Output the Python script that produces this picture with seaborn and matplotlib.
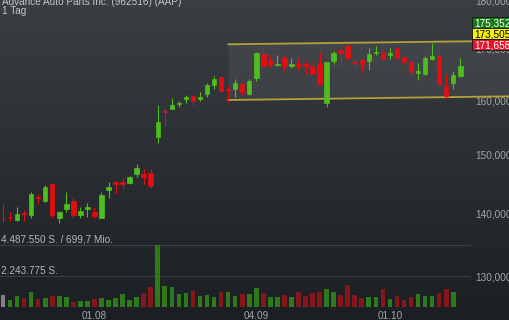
import numpy as np
import pandas as pd
import matplotlib
matplotlib.use("Agg")
import matplotlib.pyplot as plt
from matplotlib.patches import Rectangle
from matplotlib.ticker import FixedLocator, NullLocator, FuncFormatter
import seaborn as sns

# ---------------- data ----------------
title = "Advance Auto Parts Inc. (962516) (AAP)"
period = "1 Tag"

opens = [139122, 139440, 138936, 140040, 139707, 142656, 142035, 144859, 139256, 140700,
         142085, 139707, 140650, 140248, 139256, 143939, 145202, 145202, 145082, 146630,
         146630, 146751, 153116, 157882, 158311, 159304, 160132, 160813, 160189, 161079,
         162798, 164457, 162184, 162089, 163048, 161136, 164147, 168920, 167590, 166801,
         168065, 166545, 166880, 166841, 166604, 167136, 159491, 167530, 169717, 170520,
         167392, 167728, 167530, 169059, 169317, 168720, 170058, 168263, 167274, 165235,
         164981, 167926, 168521, 162529, 163298, 164651]
highs = [141483, 140247, 140982, 140533, 143499, 143161, 144739, 144910, 140366, 143499,
         142756, 141083, 141751, 141083, 143499, 145304, 145424, 145992, 146336, 148318,
         147497, 147497, 159059, 158442, 160321, 159868, 160946, 161079, 161574, 163182,
         164592, 164592, 162529, 163954, 163298, 163954, 169378, 170580, 168720, 168720,
         168720, 168065, 168184, 167590, 167274, 169258, 167392, 169578, 170058, 170862,
         168065, 167926, 170179, 170580, 170379, 170179, 170379, 168382, 167333, 167136,
         168581, 171225, 169258, 165040, 165508, 168184]
lows = [138604, 138720, 138770, 138770, 139155, 141482, 141818, 139155, 138345, 140153,
        139155, 139256, 139425, 139155, 139155, 142588, 143161, 144059, 144859, 146112,
        144859, 144178, 152035, 155224, 158255, 158741, 159491, 159003, 159811, 160624,
        162146, 161574, 159567, 160624, 160946, 160946, 163683, 166290, 166290, 166604,
        165625, 166212, 165762, 164923, 164923, 162855, 158741, 166880, 166604, 167728,
        166290, 165313, 165762, 168720, 167728, 167926, 167926, 167076, 164651, 163818,
        164884, 167728, 162529, 160321, 162089, 164457]
closes = [138988, 139306, 139925, 139824, 143161, 142488, 144399, 139707, 140248, 141532,
          139707, 140417, 141083, 139540, 143042, 144450, 144910, 144996, 146112, 147619,
          146163, 144620, 155848, 157696, 159059, 159491, 160510, 159811, 160624, 162855,
          163954, 161707, 161898, 163298, 161574, 163625, 169118, 166604, 166880, 166998,
          166604, 166880, 166604, 166545, 164981, 163048, 167274, 169178, 169138, 168065,
          167195, 166938, 168920, 169378, 167926, 169118, 168223, 167274, 165430, 165566,
          168065, 168581, 162990, 160700, 164787, 166604]
volumes = [864000, 526000, 814000, 691000, 1124000, 576000, 691000, 814000, 814000, 764000,
           403000, 454000, 475000, 576000, 648000, 547000, 691000, 958000, 526000, 764000,
           1008000, 1441000, 4487550, 1534000, 1441000, 980000, 1030000, 1196000, 836000, 908000,
           742000, 1080000, 1124000, 792000, 936000, 958000, 1369000, 1008000, 764000, 764000,
           886000, 720000, 1102000, 814000, 1008000, 1080000, 1297000, 1080000, 886000, 1606000,
           886000, 691000, 742000, 742000, 1297000, 598000, 814000, 526000, 764000, 936000,
           814000, 836000, 1008000, 1340000, 1080000]
turnover_label = "699,7 Mio."

date_ticks = [13, 36, 55]
date_labels = ["01.08", "04.09", "01.10"]
price_ticks = [130000, 140000, 150000, 160000, 170000, 180000]

channel_idx = [32, 72]
channel_upper = [170862, 171572]
channel_lower = [160000, 160697]

marker_values = [175352, 173505, 171658]
marker_labels = ["175,352", "173,505", "171,658"]

# ---------------- style ----------------
W, H = 510, 320
FONT = ["Liberation Sans", "DejaVu Sans"]
sns.set_style("dark")
plt.rcParams["font.family"] = FONT
FS = 7.2
C_UP = "#4fbd1c"
C_DN = "#e30d12"
V_UP = "#2e7a1a"
V_DN = "#87161b"
V_FLAT = "#808080"
TXT = "#a3a6a9"

fig = plt.figure(figsize=(W / 100, H / 100), dpi=100)

# gradient background
bg = fig.add_axes([0, 0, 1, 1], zorder=-5)
top = np.array([0x3b, 0x3f, 0x43]) / 255
bot = np.array([0x1b, 0x1e, 0x22]) / 255
t = np.linspace(0, 1, 256)[:, None, None]
grad = top * (1 - t) + bot * t
grad = np.repeat(grad, 4, axis=1)
bg.imshow(grad, aspect="auto", extent=[0, 1, 0, 1])
bg.set_axis_off()

idx = np.arange(len(closes))
x0 = -3 / 7.035
x1 = (470 - 3) / 7.035

# ---------------- price axes ----------------
ax = fig.add_axes([0, 0, 470 / W, 1], zorder=1)
ax.patch.set_alpha(0)
ax.set_yscale("log")
ax.set_ylim(123441, 180025)
ax.set_xlim(x0, x1)
for s in ax.spines.values():
    s.set_visible(False)

o = np.array(opens, float)
c = np.array(closes, float)
hi = np.array(highs, float)
lo = np.array(lows, float)
cols = [C_UP if cc >= oo else C_DN for oo, cc in zip(o, c)]

# channel
ax.fill_between(channel_idx, channel_lower, channel_upper, color="white",
                alpha=0.06, linewidth=0, clip_on=False, zorder=1)
ax.plot(channel_idx, channel_upper, color="#b3a234", lw=1.3, clip_on=False, zorder=2)
ax.plot(channel_idx, channel_lower, color="#b3a234", lw=1.3, clip_on=False, zorder=2)

ax.vlines(idx, lo, hi, colors=cols, linewidth=0.8, zorder=3)
ax.bar(idx, np.abs(c - o), bottom=np.minimum(o, c), width=0.64, color=cols,
       edgecolor=cols, linewidth=0.5, zorder=4)

ax.yaxis.tick_right()
ax.yaxis.set_major_locator(FixedLocator(price_ticks))
ax.yaxis.set_minor_locator(NullLocator())
ax.yaxis.set_major_formatter(FuncFormatter(lambda v, p: f"{int(round(v)):,}"))
ax.tick_params(axis="y", length=0, pad=3.6, labelsize=FS, labelcolor=TXT)
ax.set_xticks([])
ax.grid(False)

# ---------------- volume axes ----------------
vmax = max(volumes)
vax = fig.add_axes([0, (H - 307.3) / H, 470 / W, 62.3 / H], zorder=0.5)
vax.patch.set_alpha(0)
dirs = ["flat"] + ["up" if closes[i] >= closes[i - 1] else "down"
                   for i in range(1, len(volumes))]
vdf = pd.DataFrame({"idx": np.arange(len(volumes)), "volume": volumes, "dir": dirs})
sns.barplot(data=vdf, x="idx", y="volume", hue="dir",
            palette={"up": V_UP, "down": V_DN, "flat": V_FLAT},
            native_scale=True, width=0.66, dodge=False, legend=False,
            errorbar=None, saturation=1, linewidth=0, ax=vax)
vax.set_xlim(x0, x1)
vax.set_ylim(0, vmax)
for s in vax.spines.values():
    s.set_visible(False)
vax.set_xlabel("")
vax.set_ylabel("")
vax.set_yticks([])
vax.grid(False)
for lvl in (vmax, vmax / 2):
    vax.axhline(lvl, color="#3c4044", lw=0.8, clip_on=False, zorder=0)

def de(n):
    return f"{int(round(n)):,}".replace(",", ".")

vax.annotate(f"{de(vmax)} S. / {turnover_label}", xy=(0, vmax),
             xycoords=("axes fraction", "data"), xytext=(0.7, 1.9),
             textcoords="offset points", va="baseline", ha="left",
             fontsize=FS, color="#b4b7ba")
vax.annotate(f"{de(vmax / 2)} S.", xy=(0, vmax / 2),
             xycoords=("axes fraction", "data"), xytext=(0.7, 1.9),
             textcoords="offset points", va="baseline", ha="left",
             fontsize=FS, color="#b4b7ba")

vax.set_xticks(date_ticks)
vax.set_xticklabels(date_labels)
vax.tick_params(axis="x", length=0, pad=3.0, labelsize=FS, labelcolor=TXT)

# ---------------- titles ----------------
fig.text(2 / W, 1 - 5 / H, title, va="baseline", ha="left", fontsize=FS, color="#c4c7ca")
fig.text(2 / W, 1 - 14.3 / H, period, va="baseline", ha="left", fontsize=FS, color="#c4c7ca")

# ---------------- price markers ----------------
box_style = [("#177a14", "white"), ("#f4f200", "black"), ("#e2172c", "white")]
prev = -100
for v, lab, (fc, tc) in zip(marker_values, marker_labels, box_style):
    ypx = H - ax.transData.transform((0, v))[1]
    ypx = max(ypx, prev + 11.2)
    prev = ypx
    fig.add_artist(Rectangle((472 / W, 1 - (ypx + 5.3) / H), 40 / W, 10.6 / H,
                             transform=fig.transFigure, facecolor=fc,
                             edgecolor="#151515", linewidth=0.6, zorder=5))
    fig.text(474 / W, 1 - ypx / H, lab, va="center_baseline", ha="left",
             fontsize=FS, color=tc, zorder=6)

fig.savefig("out.png", dpi=100)
